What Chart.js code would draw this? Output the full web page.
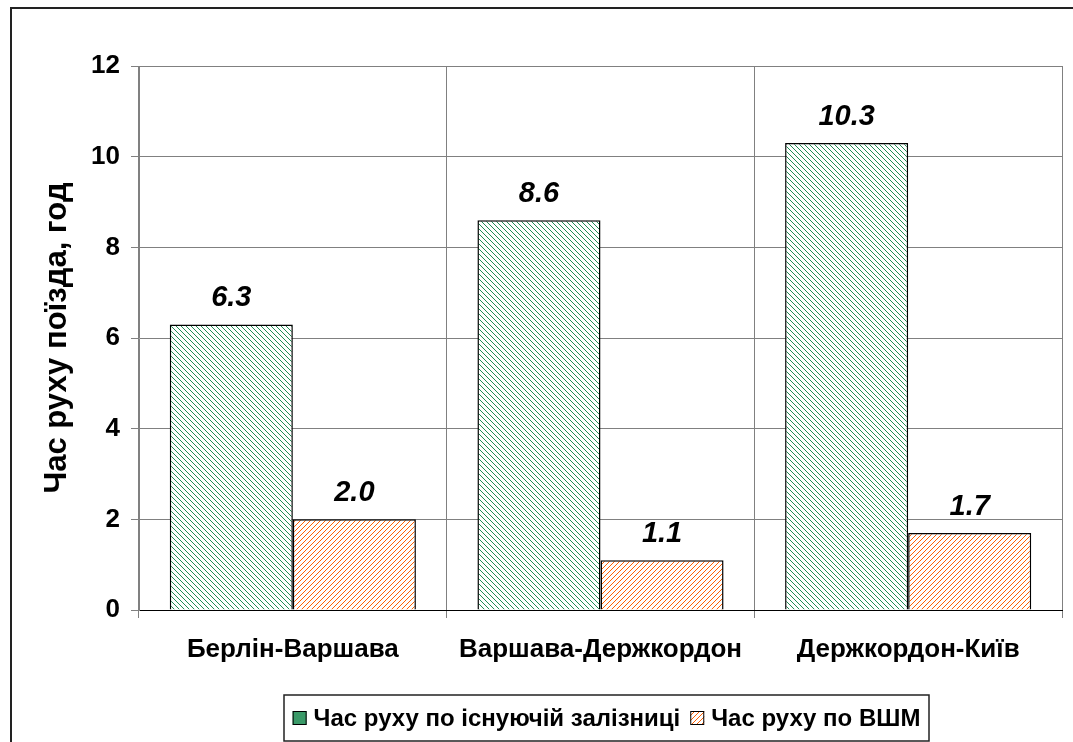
<!DOCTYPE html>
<html>
<head>
<meta charset="utf-8">
<script src="https://cdn.jsdelivr.net/npm/chart.js@4"></script>
<style>
  html, body { margin: 0; padding: 0; background: #fff; }
  #wrap { width: 1073px; height: 742px; }
</style>
</head>
<body>
<div id="wrap"><canvas id="c" width="1073" height="742"></canvas></div>
<script>
const categories = ['Берлін-Варшава', 'Варшава-Держкордон', 'Держкордон-Київ'];
const existingRail = [6.3, 8.6, 10.3];
const highSpeed = [2.0, 1.1, 1.7];
const seriesNames = ['Час руху по існуючій залізниці', 'Час руху по ВШМ'];
const yTicks = [0, 2, 4, 6, 8, 10, 12];
const yTitle = 'Час руху поїзда, год';

const FONT = '"Liberation Sans", Arial, sans-serif';

// Hatched fills: thin diagonal strokes on white
function hatch(color, dir) {
  const s = 10, c = document.createElement('canvas');
  c.width = s; c.height = s;
  const g = c.getContext('2d');
  g.fillStyle = '#fff'; g.fillRect(0, 0, s, s);
  g.fillStyle = color;
  for (let y = 0; y < s; y++) {
    for (let x = 0; x < s; x++) {
      const k = dir > 0 ? (x - y + 100) % 5 : (x + y) % 5;
      if (k === 0) g.fillRect(x, y, 1, 1);
    }
  }
  return g.createPattern(c, 'repeat');
}
const ctx0 = document.getElementById('c').getContext('2d');
const greenHatch = hatch('#1f8f55', 1);
const orangeHatch = hatch('#ff6000', -1);

const frameAndLegend = {
  id: 'frameAndLegend',
  afterDraw(chart) {
    const ctx = chart.ctx;
    ctx.save();
    // outer frame
    ctx.strokeStyle = '#222'; ctx.lineWidth = 2;
    ctx.strokeRect(11, 8, 1100, 800);
    // value labels
    ctx.font = 'italic bold 29px ' + FONT;
    ctx.fillStyle = '#000'; ctx.textAlign = 'center'; ctx.textBaseline = 'middle';
    chart.data.datasets.forEach((ds, i) => {
      chart.getDatasetMeta(i).data.forEach((bar, j) => {
        ctx.fillText(ds.data[j].toFixed(1), bar.x, bar.y - 26);
      });
    });
    // legend
    const bx = 284, by = 695, bw = 645, bh = 46;
    ctx.fillStyle = '#fff'; ctx.fillRect(bx, by, bw, bh);
    ctx.strokeStyle = '#222'; ctx.lineWidth = 1.5; ctx.strokeRect(bx, by, bw, bh);
    ctx.font = 'bold 24px ' + FONT; ctx.textAlign = 'left';
    const sw = 14, gap1 = 7, gap2 = 10;
    const w0 = ctx.measureText(seriesNames[0]).width, w1 = ctx.measureText(seriesNames[1]).width;
    const total = sw + gap1 + w0 + gap2 + sw + gap1 + w1;
    let x = bx + (bw - total) / 2; const cy = by + bh / 2;
    const fills = ['#3a9a68', orangeHatch];
    [w0, w1].forEach((w, i) => {
      ctx.fillStyle = fills[i]; ctx.fillRect(x, cy - sw / 2, sw, sw);
      ctx.strokeStyle = '#000'; ctx.lineWidth = 1; ctx.strokeRect(x + 0.5, cy - sw / 2 + 0.5, sw - 1, sw - 1);
      x += sw + gap1;
      ctx.fillStyle = '#000'; ctx.fillText(seriesNames[i], x, cy + 1);
      x += w + gap2;
    });
    ctx.restore();
  }
};

new Chart(ctx0, {
  type: 'bar',
  data: {
    labels: categories,
    datasets: [
      { label: seriesNames[0], data: existingRail, backgroundColor: greenHatch, borderColor: '#000', borderWidth: 1.5 },
      { label: seriesNames[1], data: highSpeed, backgroundColor: orangeHatch, borderColor: '#000', borderWidth: 1.5 }
    ]
  },
  options: {
    responsive: false,
    animation: false,
    devicePixelRatio: 1,
    layout: { padding: { top: 66, right: 11, left: 0, bottom: 0 } },
    plugins: { legend: { display: false }, tooltip: { enabled: false } },
    datasets: { bar: { categoryPercentage: 0.8, barPercentage: 1.0 } },
    scales: {
      x: {
        offset: true,
        grid: { offset: true, color: '#808080', lineWidth: 1, tickLength: 8 },
        border: { color: '#000', width: 1 },
        ticks: { color: '#000', font: { family: FONT, size: 26, weight: 'bold' }, padding: 16, maxRotation: 0 },
        afterFit(s) { s.height = 132; }
      },
      y: {
        min: 0, max: 12,
        afterBuildTicks(s) { s.ticks = yTicks.map(v => ({ value: v })); },
        grid: { color: '#808080', lineWidth: 1, tickLength: 8 },
        border: { color: '#808080', width: 1 },
        ticks: { color: '#000', font: { family: FONT, size: 26, weight: 'bold' }, padding: 11 },
        title: { display: true, text: yTitle, color: '#000', font: { family: FONT, size: 31, weight: 'bold' }, padding: { top: 39, bottom: 0 } },
        afterFit(s) { s.width = 139; }
      }
    }
  },
  plugins: [frameAndLegend]
});
</script>
</body>
</html>
